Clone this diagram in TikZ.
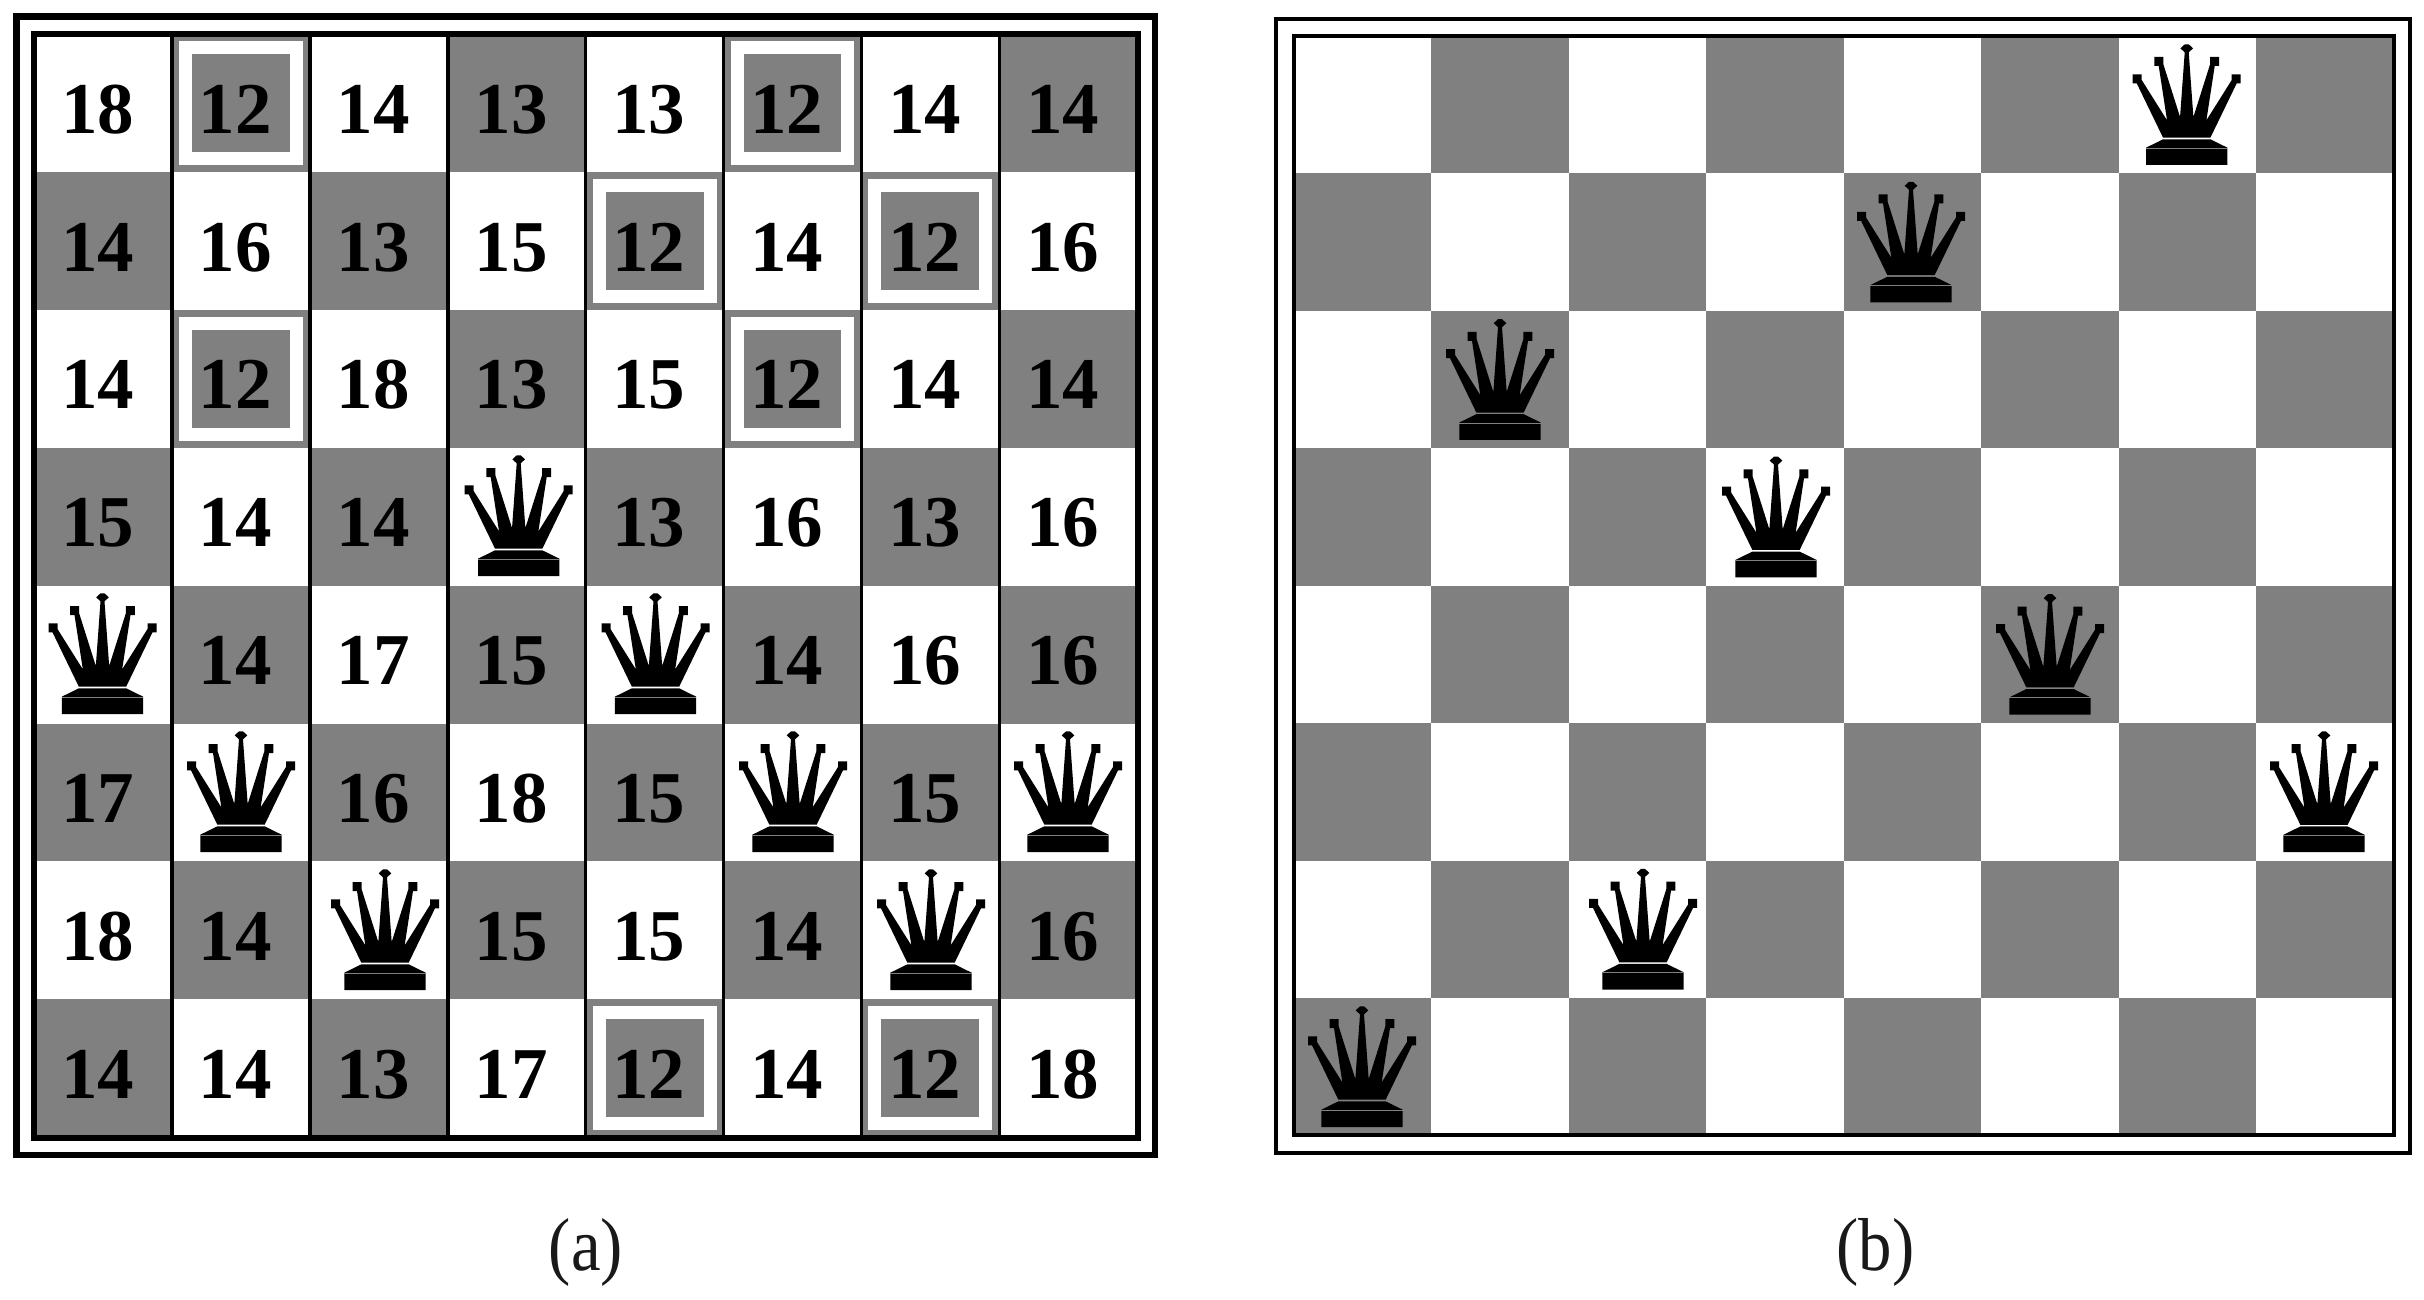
\documentclass[tikz,border=0pt]{standalone}
\usepackage{fontspec}
\setmainfont{Liberation Serif}
\definecolor{boardgray}{HTML}{808080}
\tikzset{
  square/.style={fill=boardgray,draw=none},
  numlabel/.style={inner sep=0pt,anchor=base,font=\fontsize{73}{80}\selectfont\bfseries},
  caplabel/.style={inner sep=0pt,anchor=base,font=\fontsize{75}{80}\selectfont\addfontfeature{FakeStretch=0.89},text=black!90},
  pics/queen/.style={code={
    \fill[black] (-23.67,-27.33) -- (-50,-81.67) -- (-54,-81.67) -- (-54,-90.67) -- (-45,-90.67) -- (-45,-85)
      -- (-19.67,-44.67) -- (-28,-99) -- (-32.33,-99) -- (-32.33,-108) -- (-23.33,-108) -- (-23.33,-100.67)
      -- (-6.67,-48) -- (-2,-112.67) -- (-6.33,-116.67) -- (-2,-120.67) -- (2,-120.67) -- (6.33,-116.67) -- (2,-112.67)
      -- (6.67,-48) -- (23.33,-100.67) -- (23.33,-108) -- (32.33,-108) -- (32.33,-99) -- (28,-99)
      -- (19.67,-44.67) -- (45,-85) -- (45,-90.67) -- (54,-90.67) -- (54,-81.67) -- (50,-81.67)
      -- (23.67,-27.33) -- cycle;
    \fill[black] (-23.67,-25.67) -- (-40.67,-17.33) -- (-40.67,0) -- (40.67,0) -- (40.67,-17.33) -- (23.67,-25.67) -- cycle;
    \draw[boardgray,line width=0.6pt] (-40.67,-17) -- (40.67,-17);
  }}
}
\def\boardvals{{18,12,14,13,13,12,14,14},{14,16,13,15,12,14,12,16},{14,12,18,13,15,12,14,14},{15,14,14,0,13,16,13,16},{0,14,17,15,0,14,16,16},{17,0,16,18,15,0,15,0},{18,14,0,15,15,14,0,16},{14,14,13,17,12,14,12,18}}
\begin{document}
\begin{tikzpicture}[x=1pt,y=-1pt]
\useasboundingbox (0,0) rectangle (2424,1300);
\fill[white] (0,0) rectangle (2424,1300);
% left board
\foreach \rowvals [count=\r from 0] in \boardvals {
  \foreach \v [count=\c from 0] in \rowvals {
    \pgfmathtruncatemacro{\odd}{mod(\c+\r,2)}
    \ifnum\odd=1
      \fill[square] ({34+137.9*\c},{34+137.9*\r}) rectangle ++(137.9,137.9);
    \fi
    \ifnum\v=12
      \fill[white] ({34+137.9*\c+7},{34+137.9*\r+7}) rectangle ++(123.9,123.9);
      \fill[square] ({34+137.9*\c+20},{34+137.9*\r+20}) rectangle ++(97.9,97.9);
    \fi
  }
}
\foreach \i in {1,...,7}
  \draw[black,line width=3.6pt] ({34+137.9*\i},34) -- ({34+137.9*\i},1138);
\draw[black,line width=6.2pt] (34,34) rectangle (1138,1138);
\draw[black,line width=6.6pt] (16.5,16.5) rectangle (1155,1155);
\foreach \rowvals [count=\r from 0] in \boardvals {
  \foreach \v [count=\c from 0] in \rowvals {
    \ifnum\v>0
      \node[numlabel] (n-\r-\c) at ({97.5+137.86*\c},{133.2+137.86*\r}) {\v};
    \fi
  }
}
\foreach \qx/\qr in {518.7/3,102.5/4,655.5/4,241/5,793/5,1068/5,385/6,931/6}
  \pic at (\qx,{714+138*(\qr-4)}) {queen};
% right board
\foreach \r in {0,...,7}
  \foreach \c in {0,...,7} {
    \pgfmathtruncatemacro{\odd}{mod(\c+\r,2)}
    \ifnum\odd=1
      \fill[square] ({1293.5+137.5*\c},{35.5+137.5*\r}) rectangle ++(137.5,137.5);
    \fi
  }
\draw[black,line width=4pt] (1294,36) rectangle (2394,1135);
\draw[black,line width=4pt] (1276,19) rectangle (2410,1152.5);
\foreach \qx/\qr in {2186.7/0,1911/1,1500/2,1776/3,2050/4,2324/5,1643/6,1362/7}
  \pic at (\qx,{165+137.43*\qr}) {queen};
% captions
\node[caplabel] (capa) at (586,1270) {(a)};
\node[caplabel] (capb) at (1875.5,1270) {(b)};
\end{tikzpicture}
\end{document}
